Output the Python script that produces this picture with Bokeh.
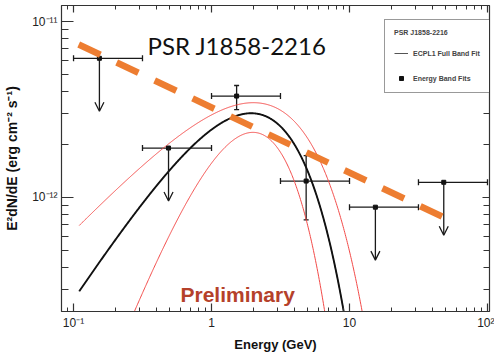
import numpy as np
from bokeh.plotting import figure
from bokeh.models import (Range1d, LogAxis, FixedTicker, CustomJSTickFormatter,
                          Whisker, TeeHead, Arrow, OpenHead, ColumnDataSource,
                          Label, Legend, LegendItem)
from bokeh.embed import file_html
from bokeh.resources import INLINE

# Energy-band fits (GeV, erg cm^-2 s^-1)
band_lo = [0.1, 0.316, 1.0, 3.16, 10.0, 31.6]
band_hi = [0.316, 1.0, 3.16, 10.0, 31.6, 100.0]
band_E = [0.154, 0.488, 1.52, 4.85, 15.4, 48.2]
band_flux = [6.18e-12, 1.91e-12, 3.77e-12, 1.24e-12, 8.81e-13, 1.22e-12]
band_err_lo = [None, None, 3.16e-12, 7.47e-13, None, None]
band_err_hi = [None, None, 4.33e-12, 1.73e-12, None, None]
band_is_ul = [True, True, False, False, True, True]
ul_arrow_ratio = 0.5

# ECPL full-band fit: E^2 dN/dE = K * E^(2 - gamma) * exp(-E / Ec)
fit_K, fit_gamma, fit_Ec = 4.54e-12, 0.79, 1.60
# envelope of the fit uncertainty band
upper_K, upper_gamma, upper_Ec = 4.43e-12, 1.18, 2.45
lower_K, lower_gamma, lower_Ec = 4.49e-12, -0.10, 0.95
curve_E_min, curve_E_max = 0.11, 20.0

# power-law guide line end points
guide_E = [0.109, 48.0]
guide_flux = [7.4e-12, 7.73e-13]

# axes
x_ticks = [0.1, 1.0, 10.0, 100.0]
x_tick_labels = ["10\u207b\u00b9", "1", "10", "10\u00b2"]
y_ticks = [1e-12, 1e-11]
y_tick_labels = ["10\u207b\u00b9\u00b2", "10\u207b\u00b9\u00b9"]
x_range = (0.0818, 103.4)
y_range = (2.25e-13, 1.233e-11)


def ecpl(E, K, gamma, Ec):
    return K * E ** (2.0 - gamma) * np.exp(-E / Ec)


def minor_ticks(lo, hi):
    out = []
    for d in range(int(np.floor(np.log10(lo))) - 1, int(np.ceil(np.log10(hi))) + 1):
        for k in range(2, 10):
            v = k * 10.0 ** d
            if lo <= v <= hi:
                out.append(v)
    return out


FONT = "Liberation Sans"
AX = "#333333"

p = figure(frame_width=428, frame_height=306, x_axis_type="log", y_axis_type="log",
           x_range=Range1d(*x_range), y_range=Range1d(*y_range),
           output_backend="svg", toolbar_location=None,
           min_border_left=61, min_border_right=5, min_border_top=5, min_border_bottom=41)
p.xgrid.visible = False
p.ygrid.visible = False
p.outline_line_color = AX
p.background_fill_color = "white"
p.border_fill_color = "white"

label_js = """
let best = 0, d = Infinity;
for (let i = 0; i < tick_vals.length; i++) {
  const dd = Math.abs(Math.log10(tick) - Math.log10(tick_vals[i]));
  if (dd < d) { d = dd; best = i; }
}
return tick_text[best];
"""
blank_js = "return '';"

xt = FixedTicker(ticks=x_ticks, minor_ticks=minor_ticks(*x_range))
yt = FixedTicker(ticks=y_ticks, minor_ticks=minor_ticks(*y_range))


def style_axis(ax, major_in, minor_in):
    ax.axis_line_color = AX
    ax.axis_line_width = 1.2
    ax.major_tick_line_color = AX
    ax.minor_tick_line_color = AX
    ax.major_tick_line_width = 1.2
    ax.minor_tick_line_width = 1.0
    ax.major_tick_in = major_in
    ax.major_tick_out = 0
    ax.minor_tick_in = minor_in
    ax.minor_tick_out = 0


xa = p.xaxis[0]
xa.ticker = xt
xa.formatter = CustomJSTickFormatter(args=dict(tick_vals=x_ticks, tick_text=x_tick_labels),
                                     code=label_js)
style_axis(xa, 8, 4)
xa.major_label_text_font = FONT
xa.major_label_text_font_size = "12px"
xa.major_label_text_color = "#222222"
xa.major_label_standoff = 4
xa.axis_label = "Energy (GeV)"
xa.axis_label_text_font = FONT
xa.axis_label_text_font_size = "13px"
xa.axis_label_text_font_style = "bold"
xa.axis_label_text_color = "#111111"
xa.axis_label_standoff = 4

ya = p.yaxis[0]
ya.ticker = yt
ya.formatter = CustomJSTickFormatter(args=dict(tick_vals=y_ticks, tick_text=y_tick_labels),
                                     code=label_js)
style_axis(ya, 12, 7)
ya.major_label_text_font = FONT
ya.major_label_text_font_size = "12px"
ya.major_label_text_color = "#222222"
ya.major_label_standoff = 4
ya.axis_label = "E\u00b2dN/dE (erg cm\u207b\u00b2 s\u207b\u00b9)"
ya.axis_label_text_font = FONT
ya.axis_label_text_font_size = "14px"
ya.axis_label_text_font_style = "bold"
ya.axis_label_text_color = "#111111"
ya.axis_label_standoff = 9

# mirrored tick marks on the top and right edges
top_ax = LogAxis(ticker=xt, formatter=CustomJSTickFormatter(code=blank_js),
                 major_label_text_font_size="0px", major_label_standoff=0)
style_axis(top_ax, 7, 4)
right_ax = LogAxis(ticker=yt, formatter=CustomJSTickFormatter(code=blank_js),
                   major_label_text_font_size="0px", major_label_standoff=0)
style_axis(right_ax, 7, 6)
p.add_layout(top_ax, "above")
p.add_layout(right_ax, "right")

# fit curve and its uncertainty band
E = np.logspace(np.log10(curve_E_min), np.log10(curve_E_max), 600)
fit_flux = ecpl(E, fit_K, fit_gamma, fit_Ec)
p.line(E, ecpl(E, upper_K, upper_gamma, upper_Ec), line_color="#f24a48", line_width=1)
p.line(E, ecpl(E, lower_K, lower_gamma, lower_Ec), line_color="#f24a48", line_width=1)
# thin twin of the fit curve, only shown as the legend sample
legend_line = p.line(E, fit_flux, line_color="#555555", line_width=1)
fit_r = p.line(E, fit_flux, line_color="#111111", line_width=1.9)

# energy-band points
flux = np.array(band_flux)
ul = np.array(band_is_ul)
src_all = ColumnDataSource(dict(E=band_E, flux=band_flux, lo=band_lo, hi=band_hi))
det = ~ul
src_det = ColumnDataSource(dict(
    E=list(np.array(band_E)[det]),
    lo=[v for v, d in zip(band_err_lo, det) if d],
    hi=[v for v, d in zip(band_err_hi, det) if d]))
src_ul = ColumnDataSource(dict(
    E=list(np.array(band_E)[ul]),
    flux=list(flux[ul]),
    end=list(flux[ul] * ul_arrow_ratio)))

BAR = "#1a1a1a"
p.add_layout(Whisker(source=src_all, base="flux", lower="lo", upper="hi", dimension="width",
                     line_color=BAR, line_width=1.3,
                     lower_head=TeeHead(size=6, line_color=BAR, line_width=1.3),
                     upper_head=TeeHead(size=6, line_color=BAR, line_width=1.3)))
p.add_layout(Whisker(source=src_det, base="E", lower="lo", upper="hi", dimension="height",
                     line_color=BAR, line_width=1.3,
                     lower_head=TeeHead(size=5, line_color=BAR, line_width=1.3),
                     upper_head=TeeHead(size=5, line_color=BAR, line_width=1.3)))
p.add_layout(Arrow(source=src_ul, x_start="E", y_start="flux", x_end="E", y_end="end",
                   line_color=BAR, line_width=1.3,
                   end=OpenHead(size=9, line_color=BAR, line_width=1.3)))
pts_r = p.scatter(band_E, band_flux, marker="square", size=4, color="#111111")

# dashed power-law guide
guide = p.line(guide_E, guide_flux, line_color="#ED7D31", line_width=6.5, line_dash="24 18")
guide.level = "overlay"

# legend
legend = Legend(items=[LegendItem(label="ECPL1 Full Band Fit", renderers=[legend_line]),
                       LegendItem(label="Energy Band Fits", renderers=[pts_r])],
                title="PSR J1858-2216", location=(323, 218),
                border_line_color=AX, border_line_width=1,
                background_fill_color="white", background_fill_alpha=1.0,
                title_text_font=FONT, title_text_font_size="7px", title_text_font_style="bold",
                label_text_font=FONT, label_text_font_size="7px", label_text_font_style="bold",
                glyph_width=14, glyph_height=10, label_height=10, label_standoff=5,
                spacing=15, padding=9, margin=0, title_standoff=12)
p.add_layout(legend, "center")

p.add_layout(Label(x=86, y=266, x_units="screen", y_units="screen", text="PSR J1858-2216",
                   text_font="Lato", text_font_size="24px", text_color="#111111",
                   text_baseline="alphabetic", text_align="left"))
p.add_layout(Label(x=119, y=17, x_units="screen", y_units="screen", text="Preliminary",
                   text_font=FONT, text_font_size="21px", text_font_style="bold",
                   text_color="#b5412a", text_baseline="alphabetic", text_align="left"))

open("out.html", "w").write(file_html(p, INLINE))
